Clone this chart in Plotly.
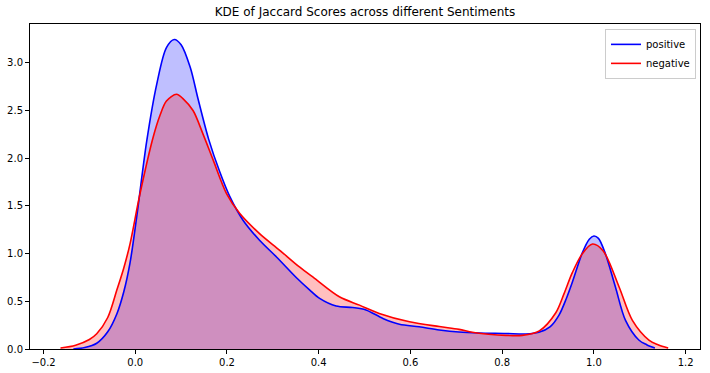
import plotly.graph_objects as go

# Positive sentiment KDE
pos_x = [-0.135, -0.11, -0.084, -0.06, -0.04, -0.025, -0.0115, 0.003, 0.025, 0.047,
         0.068, 0.085, 0.10, 0.12, 0.137, 0.16, 0.184, 0.206, 0.235, 0.271,
         0.308, 0.351, 0.38, 0.402, 0.438, 0.474, 0.503, 0.54, 0.576, 0.619,
         0.663, 0.706, 0.75, 0.808, 0.852, 0.88, 0.905, 0.924, 0.94, 0.953, 0.975,
         0.99, 1.0, 1.01, 1.025, 1.047, 1.069, 1.098, 1.115, 1.133]
pos_y = [0.0, 0.015, 0.06, 0.18, 0.37, 0.60, 0.90, 1.38, 2.18, 2.78,
         3.16, 3.245, 3.19, 2.95, 2.62, 2.20, 1.86, 1.60, 1.35, 1.14,
         0.965, 0.75, 0.62, 0.53, 0.45, 0.435, 0.41, 0.32, 0.26, 0.233,
         0.20, 0.178, 0.168, 0.163, 0.157, 0.175, 0.235, 0.355, 0.53, 0.70, 1.01,
         1.15, 1.185, 1.16, 1.0, 0.65, 0.30, 0.094, 0.045, 0.01]

# Negative sentiment KDE
neg_x = [-0.163, -0.13, -0.10, -0.084, -0.06, -0.04, -0.025, -0.0115, 0.010, 0.039,
         0.054, 0.068, 0.090, 0.105, 0.126, 0.148, 0.170, 0.199, 0.228, 0.271,
         0.315, 0.358, 0.391, 0.445, 0.489, 0.532, 0.598, 0.663, 0.706, 0.735,
         0.77, 0.808, 0.844, 0.881, 0.917, 0.935, 0.953, 0.975, 0.997, 1.02, 1.055,
         1.084, 1.12, 1.14, 1.162]
neg_y = [0.01, 0.04, 0.10, 0.16, 0.33, 0.62, 0.85, 1.10, 1.62, 2.22,
         2.45, 2.60, 2.67, 2.62, 2.50, 2.25, 1.98, 1.63, 1.42, 1.21,
         1.035, 0.86, 0.74, 0.547, 0.46, 0.373, 0.285, 0.235, 0.206, 0.175,
         0.155, 0.143, 0.143, 0.19, 0.38, 0.58, 0.80, 1.00, 1.10, 1.03, 0.65,
         0.30, 0.094, 0.045, 0.01]

x_ticks = [-0.2, 0.0, 0.2, 0.4, 0.6, 0.8, 1.0, 1.2]
y_ticks = [0.0, 0.5, 1.0, 1.5, 2.0, 2.5, 3.0]

fig = go.Figure()
fig.add_trace(go.Scatter(x=pos_x, y=pos_y, mode="lines", fill="tozeroy",
                         fillcolor="rgba(0,0,255,0.25)", line=dict(width=0, shape="spline", smoothing=0.9),
                         showlegend=False, hoverinfo="skip"))
fig.add_trace(go.Scatter(x=neg_x, y=neg_y, mode="lines", fill="tozeroy",
                         fillcolor="rgba(255,0,0,0.25)", line=dict(width=0, shape="spline", smoothing=0.9),
                         showlegend=False, hoverinfo="skip"))
fig.add_trace(go.Scatter(x=pos_x, y=pos_y, mode="lines", name="positive",
                         line=dict(color="#0000ff", width=1.6, shape="spline", smoothing=0.9)))
fig.add_trace(go.Scatter(x=neg_x, y=neg_y, mode="lines", name="negative",
                         line=dict(color="#ff0000", width=1.6, shape="spline", smoothing=0.9)))

font = "DejaVu Sans, sans-serif"
fig.update_layout(
    width=710, height=373,
    margin=dict(l=30, r=10, t=24, b=24, autoexpand=False),
    paper_bgcolor="white", plot_bgcolor="white",
    font=dict(family=font, size=10, color="#000000"),
    title=dict(text="KDE of Jaccard Scores across different Sentiments",
               x=0.5, xref="paper", xanchor="center",
               y=1 - 12 / 373, yref="container", yanchor="middle",
               font=dict(family=font, size=12, color="#000000")),
    legend=dict(x=0.994, y=0.985, xanchor="right", yanchor="top",
                bgcolor="rgba(255,255,255,0.8)", bordercolor="#cccccc", borderwidth=1,
                font=dict(family=font, size=10), tracegroupgap=0, itemwidth=30),
    xaxis=dict(range=[-0.2295, 1.2314], tickvals=x_ticks, tickformat=".1f",
               automargin=False,
               showgrid=False, zeroline=False, showline=True, mirror=True,
               linecolor="#000000", linewidth=1, ticks="outside", ticklen=4,
               tickwidth=1, tickcolor="#000000"),
    yaxis=dict(range=[0, 3.407], tickvals=y_ticks, tickformat=".1f",
               automargin=False,
               showgrid=False, zeroline=False, showline=True, mirror=True,
               linecolor="#000000", linewidth=1, ticks="outside", ticklen=4,
               tickwidth=1, tickcolor="#000000"),
)

fig.write_html("out.html", config={"displayModeBar": False},
               post_script="document.body.style.margin='0';document.body.style.overflow='hidden';")
